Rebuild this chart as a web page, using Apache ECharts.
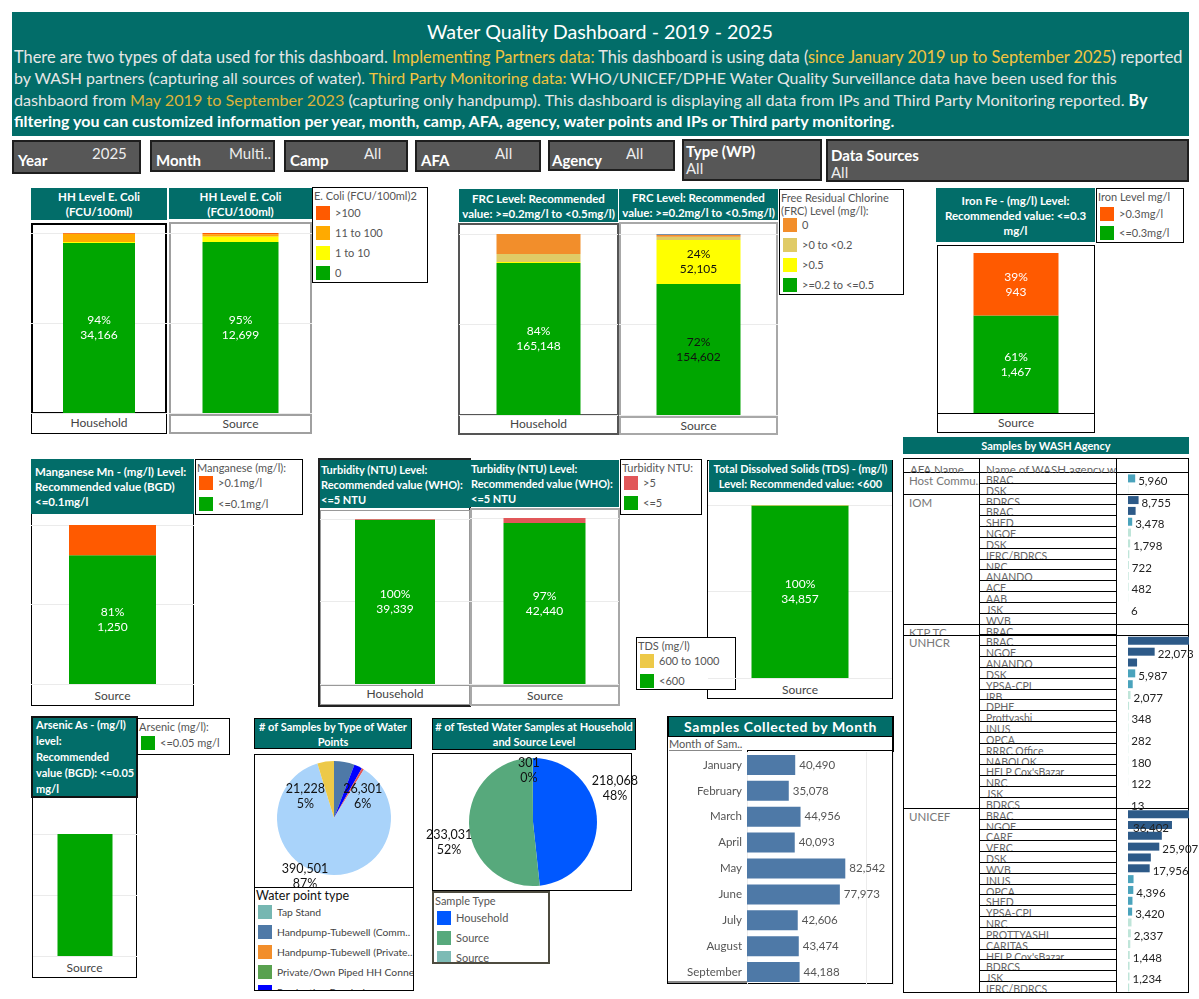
<!DOCTYPE html>
<html>
<head>
<meta charset="utf-8">
<title>Water Quality Dashboard - 2019 - 2025</title>
<script src="https://cdn.jsdelivr.net/npm/echarts@6/dist/echarts.min.js"></script>
<style>
  body { margin: 0; background: #fff; font-family: Lato, 'Open Sans', sans-serif; }
  #page { position: relative; width: 1199px; height: 999px; overflow: hidden; }
  #chart { position: absolute; left: 0; top: 0; width: 1199px; height: 999px; z-index: 2; }
  .bx { position: absolute; box-sizing: border-box; }
  .ln { position: absolute; white-space: nowrap; }
  .teal { background: #026d69; color: #fff; font-weight: bold; font-size: 11.5px; line-height: 15px; white-space: nowrap;
          display: flex; flex-direction: column; justify-content: center; overflow: hidden; }
  .hl { color: #f2c440; }
  .filter { background: #575757; border: 2px solid #1e1e1e; color: #fff; }
  .lg { background: #fff; border: 1px solid #000; color: #555; font-size: 11px; overflow: hidden; }
  .cat { border: 1px solid #000; color: #444; font-size: 12px; text-align: center; line-height: 18px; }
  .cell { overflow: hidden; white-space: nowrap; color: #666; font-size: 10.5px; line-height: 11px; border-bottom: 1px solid #000; padding: 2px 0 0 6px; }
</style>
</head>
<body>
<div id="page">
  <div id="chart"></div>
</div>
<script>
// ---------- data ----------
const ecoliLevels = ['0', '1 to 10', '11 to 100', '>100'];
const ecoliHousehold = [34166, 200, 1660, 140];
const ecoliSource = [12699, 393, 170, 98];

const frcLevels = ['>=0.2 to <=0.5', '>0.5', '>0 to <0.2', '0', 'Null'];
const frcHousehold = [165148, 1100, 8700, 21800, 0];
const frcSource = [154602, 52105, 3900, 2360, 800];

const ironLevels = ['<=0.3mg/l', '>0.3mg/l'];
const ironSource = [1467, 943];

const manganeseLevels = ['<=0.1mg/l', '>0.1mg/l'];
const manganeseSource = [1250, 293];

const turbidityLevels = ['<=5', '>5'];
const turbidityHousehold = [39339, 150];
const turbiditySource = [42440, 1310];

const tdsLevels = ['<600', '600 to 1000'];
const tdsSource = [34857, 100];

const arsenicLevels = ['<=0.05 mg/l'];
const arsenicSource = [1500];

const waterPointTypes = ['Tap Stand', 'Handpump-Tubewell (Community)', 'Handpump-Tubewell (Private)',
  'Private/Own Piped HH Connection', 'Production Borehole', 'Protected Dug Well', 'Piped Water Network', 'Other'];
const waterPointSamples = [0, 26301, 0, 0, 10400, 2970, 390501, 21228];

const sampleTypes = ['Household', 'Source', 'Source '];
const sampleCounts = [218068, 233031, 301];

const months = ['January', 'February', 'March', 'April', 'May', 'June', 'July', 'August', 'September'];
const monthSamples = [40490, 35078, 44956, 40093, 82542, 77973, 42606, 43474, 44188];

const afaNames = ['Host Community', 'IOM', 'KTP TC', 'UNHCR', 'UNICEF'];
const hostAgencies = ['BRAC', 'DSK'];
const hostSamples = [5960, 260];
const iomAgencies = ['BDRCS', 'BRAC', 'SHED', 'NGOF', 'DSK', 'IFRC/BDRCS', 'NRC', 'ANANDO', 'ACF', 'AAB', 'JSK', 'WVB'];
const iomSamples = [8755, 6300, 3478, 2500, 1798, 1100, 722, 560, 482, 150, 6, 3];
const ktpAgencies = ['BRAC'];
const ktpSamples = [40];
const unhcrAgencies = ['BRAC', 'NGOF', 'ANANDO', 'DSK', 'YPSA-CPI', 'IRB', 'DPHE', 'Prottyashi', 'INUS', 'OPCA',
  'RRRC Office', 'NABOLOK', "HELP Cox'sBazar", 'NRC', 'JSK', 'BDRCS'];
const unhcrSamples = [58000, 22073, 7500, 5987, 3900, 2077, 900, 348, 300, 282, 200, 180, 150, 122, 40, 13];
const unicefAgencies = ['BRAC', 'NGOF', 'CARE', 'VERC', 'DSK', 'WVB', 'INUS', 'OPCA', 'SHED', 'YPSA-CPI', 'NRC',
  'PROTTYASHI', 'CARITAS', "HELP Cox'sBazar", 'BDRCS', 'JSK', 'IFRC/BDRCS'];
const unicefSamples = [62000, 36402, 28000, 25907, 18900, 17956, 4600, 4396, 3700, 3420, 2900, 2337, 1900, 1448, 1300, 1234, 1000];

// ---------- styles ----------
const FONT = 'Lato, "Open Sans", sans-serif';
const levelColors = {
  '0': '#00a600', '1 to 10': '#ffff00', '11 to 100': '#ffaa00', '>100': '#ff5a00',
  '>=0.2 to <=0.5': '#00a600', '>0.5': '#ffff00', '>0 to <0.2': '#e0cb66', 'Null': '#4e79a7',
  '<=0.3mg/l': '#00a600', '>0.3mg/l': '#ff5a00',
  '<=0.1mg/l': '#00a600', '>0.1mg/l': '#ff5a00',
  '<=5': '#00a600', '>5': '#e15759',
  '<600': '#00a600', '600 to 1000': '#edc948',
  '<=0.05 mg/l': '#00a600'
};
const frcColors = Object.assign({}, levelColors, { '0': '#f28e2b' });
const wpColors = ['#76b7b2', '#4e79a7', '#f28e2b', '#59a14f', '#0000ff', '#e15759', '#a9d3fa', '#edc948'];
const sampleColors = ['#0058ff', '#57a97c', '#7dbbb5'];
// label nudges (px) so pie labels sit where the dashboard puts them
const wpLabelShift = { 1: [23, 9], 6: [-25, 27], 7: [-24, 10] };
const sampleLabelShift = { 0: [47, -32], 1: [-49, 19], 2: [-4, -17] };

// ---------- html layer ----------
const page = document.getElementById('page');
function box(x, y, w, h, cls, css, html) {
  const d = document.createElement('div');
  d.className = 'bx ' + (cls || '');
  d.style.cssText = `left:${x}px;top:${y}px;width:${w}px;height:${h}px;` + (css || '');
  if (html != null) d.innerHTML = html;
  page.appendChild(d);
  return d;
}
function title(x, y, w, h, html, css) {
  return box(x, y, w, h, 'teal', 'text-align:center;' + (css || ''), html);
}
function legend(x, y, w, h, head, items, first, step, css, itemCss) {
  const d = box(x, y, w, h, 'lg', css || '');
  let s = `<div class="ln" style="left:1px;top:1px;white-space:normal;line-height:13px">${head}</div>`;
  items.forEach((it, k) => {
    const t = first + k * step - 8;
    s += `<div class="ln" style="left:3px;top:${t}px;width:14px;height:14px;background:${it[1]}"></div>`;
    s += `<div class="ln" style="left:22px;top:${t}px;line-height:14px;${itemCss || ''}">${it[0]}</div>`;
  });
  d.innerHTML = s;
  return d;
}
function catBox(x, y, w, h, text, css) {
  return box(x, y, w, h, 'cat', css || '', text);
}
function legendItems(levels, colors) {
  return levels.filter(l => l !== 'Null').slice().reverse().map(l => [l.replace(/</g, '&lt;').replace(/>/g, '&gt;'), colors[l]]);
}

// header
box(12, 12, 1177, 124, '', 'background:#026d69');
const headLines = [
  [32, 346, 'font-size:20px;color:#fff;', 'Water Quality Dashboard - 2019 - 2025', 427],
  [57, 1169, 'color:#e6e6e6;', 'There are two types of data used for this dashboard. <span class="hl">Implementing Partners data:</span> This dashboard is using data (<span class="hl">since January 2019 up to September 2025</span>) reported', 14],
  [78, 1103, 'color:#e6e6e6;', 'by WASH partners (capturing all sources of water). <span class="hl">Third Party Monitoring data:</span> WHO/UNICEF/DPHE Water Quality Surveillance data have been used for this', 14],
  [100, 1134, 'color:#e6e6e6;', 'dashbaord from <span class="hl" style="color:#dcb23c">May 2019 to September 2023</span> (capturing only handpump). This dashboard is displaying all data from IPs and Third Party Monitoring reported. <b style="color:#fff">By</b>', 14],
  [121, 881, 'color:#fff;font-weight:bold;', 'filtering you can customized information per year, month, camp, AFA, agency, water points and IPs or Third party monitoring.', 14]
];
headLines.forEach(l => {
  const d = document.createElement('div');
  d.className = 'ln';
  d.style.cssText = `left:${l[4]}px;top:${l[0] - 11}px;line-height:22px;font-size:16px;` + l[2];
  d.innerHTML = l[3];
  page.appendChild(d);
  const w = d.getBoundingClientRect().width;
  d.style.fontSize = (parseFloat(d.style.fontSize) * l[1] / w) + 'px';
});

// filters
const filters = [
  [12, 140, 129, 34, 'Year', '2025', 4, 78],
  [150, 140, 125, 32, 'Month', 'Multi..', 4, 77],
  [284, 140, 124, 32, 'Camp', 'All', 4, 78],
  [415, 140, 126, 32, 'AFA', 'All', 4, 78],
  [548, 140, 127, 31, 'Agency', 'All', 2, 76]
];
filters.forEach(f => {
  box(f[0], f[1], f[2], f[3], 'filter', '',
    `<div class="ln" style="left:${f[6]}px;top:9px;font-weight:bold;font-size:15px">${f[4]}</div>` +
    `<div class="ln" style="left:${f[7]}px;top:2px;font-size:15px;color:#eee">${f[5]}</div>`);
});
box(682, 139, 140, 42, 'filter', '',
  '<div class="ln" style="left:2px;top:1px;font-weight:bold;font-size:15px">Type (WP)</div>' +
  '<div class="ln" style="left:2px;top:18px;font-size:15px;color:#eee">All</div>');
box(826, 139, 363, 43, 'filter', '',
  '<div class="ln" style="left:3px;top:5px;font-weight:bold;font-size:15px">Data Sources</div>' +
  '<div class="ln" style="left:3px;top:22px;font-size:15px;color:#eee">All</div>');

// E. coli
title(31, 188, 136, 32, 'HH Level E. Coli<br>(FCU/100ml)');
box(31, 223, 136, 191, '', 'border:2px solid #000');
catBox(31, 413, 136, 21, 'Household');
title(169, 188, 143, 31, 'HH Level E. Coli<br>(FCU/100ml)');
box(169, 222, 143, 193, '', 'border:2px solid #a0a0a0');
catBox(169, 414, 143, 20, 'Source', 'border:2px solid #a0a0a0;line-height:16px');
legend(312, 187, 116, 96, 'E. Coli (FCU/100ml)2', legendItems(ecoliLevels, levelColors), 26, 20);

// FRC
title(459, 189, 159, 33, 'FRC Level: Recommended<br>value: &gt;=0.2mg/l to &lt;0.5mg/l)');
box(458, 223, 161, 193, '', 'border:2px solid #555');
catBox(458, 415, 161, 20, 'Household', 'border:2px solid #555;border-top:1px solid #999;line-height:16px');
title(619, 189, 159, 31, 'FRC Level: Recommended<br>value: &gt;=0.2mg/l to &lt;0.5mg/l)');
box(619, 222, 159, 195, '', 'border:2px solid #a8a8a8');
catBox(619, 416, 159, 19, 'Source', 'border:2px solid #a8a8a8;line-height:16px');
legend(779, 189, 125, 106, 'Free Residual Chlorine<br>(FRC) Level (mg/l):', legendItems(frcLevels, frcColors), 36, 20);

// Iron
title(936, 188, 159, 54, 'Iron Fe - (mg/l) Level:<br>Recommended value: &lt;=0.3<br>mg/l');
box(937, 245, 158, 169, '', 'border:1px solid #000');
catBox(937, 413, 158, 20, 'Source');
legend(1096, 188, 88, 55, 'Iron Level mg/l', legendItems(ironLevels, levelColors), 26, 19);

// Manganese
title(31, 459, 163, 55, 'Manganese Mn - (mg/l) Level:<br>Recommended value (BGD)<br>&lt;=0.1mg/l', 'text-align:left;padding-left:4px');
box(31, 514, 163, 192, '', 'border:1px solid #000;border-top:none');
box(31, 688, 163, 18, '', 'color:#444;font-size:12px;text-align:center', 'Source');
legend(195, 459, 108, 56, 'Manganese (mg/l):', legendItems(manganeseLevels, levelColors), 24, 21);

// Turbidity
box(318, 458, 153, 249, '', 'border:2px solid #222');
title(320, 460, 150, 48, 'Turbidity (NTU) Level:<br>Recommended value (WHO):<br>&lt;=5 NTU', 'text-align:left;padding-left:1px;font-size:11px');
box(320, 510, 150, 176, '', 'border:1px solid #999');
catBox(320, 685, 150, 20, 'Household', 'border:1px solid #999;border-top:none');
title(470, 460, 149, 47, 'Turbidity (NTU) Level:<br>Recommended value (WHO):<br>&lt;=5 NTU', 'text-align:left;padding-left:1px;font-size:11px');
box(470, 508, 150, 178, '', 'border:2px solid #a8a8a8');
catBox(470, 685, 150, 21, 'Source', 'border:2px solid #a8a8a8;line-height:17px');
legend(620, 459, 82, 56, 'Turbidity NTU:', legendItems(turbidityLevels, levelColors), 24, 20);

// TDS
box(707, 460, 186, 239, '', 'border:1px solid #000');
title(709, 460, 183, 32, 'Total Dissolved Solids (TDS) - (mg/l)<br>Level: Recommended value: &lt;600', 'font-size:11px');
box(708, 682, 184, 18, '', 'color:#444;font-size:12px;text-align:center', 'Source');
legend(636, 637, 100, 53, 'TDS (mg/l)', legendItems(tdsLevels, levelColors), 24, 20);

// Arsenic
box(32, 797, 105, 181, '', 'border:1px solid #000;border-top:none');
title(31, 716, 107, 82, 'Arsenic As - (mg/l)<br>level:<br>Recommended<br>value (BGD): &lt;=0.05<br>mg/l', 'text-align:left;padding-left:3px;line-height:16px;font-size:11px;border:2px solid #111');
box(32, 960, 105, 18, '', 'color:#444;font-size:12px;text-align:center', 'Source');
legend(137, 718, 93, 37, 'Arsenic (mg/l):', legendItems(arsenicLevels, levelColors), 25, 20);

// water point pie
title(254, 718, 158, 31, '# of Samples by Type of Water<br>Points', 'border:1px solid #000;font-size:11px');
box(254, 754, 160, 134, '', 'border:1px solid #000');
legend(254, 887, 160, 104, '<span style="color:#111;font-size:12.5px">Water point type</span>',
  [['Tap Stand', wpColors[0]], ['Handpump-Tubewell (Comm..', wpColors[1]], ['Handpump-Tubewell (Private..', wpColors[2]],
   ['Private/Own Piped HH Conne..', wpColors[3]], ['Production Borehole', wpColors[4]]], 25, 20, 'color:#444', 'font-size:10.3px');

// tested samples pie
title(432, 718, 204, 32, '# of Tested Water Samples at Household<br>and Source Level', 'border:1px solid #000;font-size:11px');
box(432, 753, 200, 138, '', 'border:1px solid #000');
legend(432, 891, 118, 73, 'Sample Type', sampleTypes.map((s, i) => [s.trim(), sampleColors[i]]), 26, 20, 'border:2px solid #4d4b3f');

// month
box(667, 716, 227, 268, '', 'border:1px solid #000');
title(668, 716, 225, 21, 'Samples Collected by Month', 'font-size:14px;letter-spacing:0.6px;border:1px solid #000');
box(668, 737, 225, 14, '', 'border-right:1px solid #000;font-size:11px;color:#555;line-height:13px;padding-left:1px;overflow:hidden',
  '<span style="border-bottom:1px solid #888">Month of Sam..</span>');
box(747, 750, 146, 234, '', 'border:1px solid #000');
box(668, 981, 79, 2, '', 'background:#888');

// agency table
const rowH = 10.83, rowTop = 473;
title(903, 437, 286, 17, 'Samples by WASH Agency', 'font-size:11px;line-height:15px');
box(903, 458, 286, 535, '', 'border:1px solid #000');
box(979, 458, 1, 535, '', 'background:#000');
box(1116, 458, 1, 535, '', 'background:#000');
box(903, 472, 286, 1, '', 'background:#000');
box(904, 459, 75, 14, '', 'overflow:hidden;white-space:nowrap;color:#666;font-size:11.5px;line-height:13px;padding:4px 0 0 6px', 'AFA Name');
box(980, 459, 136, 14, '', 'overflow:hidden;white-space:nowrap;color:#666;font-size:11.5px;line-height:13px;padding:4px 0 0 6px', 'Name of WASH agency w..');

const agencyGroups = [
  [afaNames[0], 'Host Commu..', hostAgencies, hostSamples],
  [afaNames[1], 'IOM', iomAgencies, iomSamples],
  [afaNames[2], 'KTP TC', ktpAgencies, ktpSamples],
  [afaNames[3], 'UNHCR', unhcrAgencies, unhcrSamples],
  [afaNames[4], 'UNICEF', unicefAgencies, unicefSamples]
];
const agencyRows = [];
agencyGroups.forEach(g => {
  const start = agencyRows.length;
  g[2].forEach((n, k) => agencyRows.push({ afa: g[0], name: n, value: g[3][k] }));
  const gy = rowTop + start * rowH;
  box(904, gy, 75, rowH * g[2].length, '', 'overflow:hidden;white-space:nowrap;color:#777;font-size:11.5px;line-height:13px;padding:1px 0 0 5px', g[1]);
  if (start > 0) box(903, gy - 0.5, 286, 1, '', 'background:#000');
});
agencyRows.forEach((r, i) => {
  box(980, rowTop + i * rowH, 136, rowH, 'cell', '', r.name);
});

// ---------- echarts ----------
const grids = [], xAxes = [], yAxes = [], series = [];

function addStack(levels, counts, colors, rect, barWidth, cat, opts) {
  opts = opts || {};
  const gi = grids.length;
  grids.push({ left: rect[0], top: rect[1], width: rect[2], height: rect[3] });
  xAxes.push({ gridIndex: gi, type: 'category', data: [cat], axisLine: { show: false }, axisTick: { show: false }, axisLabel: { show: false } });
  yAxes.push({ gridIndex: gi, type: 'value', min: 0, max: 100, interval: 50,
    axisLine: { show: false }, axisTick: { show: false }, axisLabel: { show: false },
    splitLine: { show: opts.grid !== false, lineStyle: { color: '#ebebeb', width: 1 } } });
  const total = counts.reduce((a, b) => a + b, 0);
  levels.forEach((lv, i) => {
    const pct = counts[i] / total * 100;
    series.push({
      type: 'bar', name: lv, xAxisIndex: gi, yAxisIndex: gi, stack: 'st' + gi, barWidth: barWidth,
      data: [{ value: pct, count: counts[i] }],
      itemStyle: { color: colors[lv] },
      label: {
        show: opts.labels !== false && pct >= 20, position: 'inside',
        color: opts.labelColor || '#fff', fontSize: 12, lineHeight: 15, fontFamily: FONT,
        formatter: p => Math.round(p.value) + '%\n' + p.data.count.toLocaleString('en-US')
      }
    });
  });
}

addStack(ecoliLevels, ecoliHousehold, levelColors, [31, 233, 136, 180], 72, 'Household');
addStack(ecoliLevels, ecoliSource, levelColors, [169, 233, 143, 180], 76, 'Source');
addStack(frcLevels, frcHousehold, frcColors, [459, 234, 159, 181], 84, 'Household');
addStack(frcLevels, frcSource, frcColors, [619, 234, 159, 181], 84, 'Source', { labelColor: '#111' });
addStack(ironLevels, ironSource, levelColors, [937, 253, 158, 160], 85, 'Source', { grid: false });
addStack(manganeseLevels, manganeseSource, levelColors, [31, 525, 163, 159], 87, 'Source');
addStack(turbidityLevels, turbidityHousehold, levelColors, [320, 519, 150, 165], 80, 'Household');
addStack(turbidityLevels, turbiditySource, levelColors, [470, 518, 149, 166], 82, 'Source');
addStack(tdsLevels, tdsSource, levelColors, [708, 505, 184, 173], 97, 'Source');
addStack(arsenicLevels, arsenicSource, levelColors, [33, 834, 104, 122], 55, 'Source', { labels: false });

// pies
series.push({
  type: 'pie', center: [334, 818], radius: 57, startAngle: 90, clockwise: true,
  avoidLabelOverlap: false, minShowLabelAngle: 0,
  data: waterPointTypes.map((n, i) => ({ name: n, value: waterPointSamples[i], itemStyle: { color: wpColors[i] } })),
  label: { show: true, position: 'inside', color: '#111', fontSize: 12.5, lineHeight: 15, fontFamily: FONT,
    formatter: p => p.percent >= 4 ? p.value.toLocaleString('en-US') + '\n' + Math.round(p.percent) + '%' : '' },
  labelLine: { show: false },
  labelLayout: p => { const s = wpLabelShift[p.dataIndex]; return s ? { dx: s[0], dy: s[1] } : {}; }
});
series.push({
  type: 'pie', center: [533, 822], radius: 64, startAngle: 90, clockwise: true,
  avoidLabelOverlap: false, minShowLabelAngle: 0,
  data: sampleTypes.map((n, i) => ({ name: n, value: sampleCounts[i], itemStyle: { color: sampleColors[i] } })),
  label: { show: true, position: 'inside', color: '#111', fontSize: 12.5, lineHeight: 15, fontFamily: FONT,
    formatter: p => p.value.toLocaleString('en-US') + '\n' + Math.round(p.percent) + '%' },
  labelLine: { show: false },
  labelLayout: p => { const s = sampleLabelShift[p.dataIndex]; return s ? { dx: s[0], dy: s[1] } : {}; }
});

// samples by month
let gi = grids.length;
grids.push({ left: 747, top: 752, width: 146, height: 233 });
xAxes.push({ gridIndex: gi, type: 'value', min: 0, max: 122600, interval: 100000,
  axisLine: { show: false }, axisTick: { show: false }, axisLabel: { show: false },
  splitLine: { show: true, lineStyle: { color: '#ececec' } } });
yAxes.push({ gridIndex: gi, type: 'category', data: months, inverse: true,
  axisLine: { show: false }, axisTick: { show: false },
  axisLabel: { color: '#555', fontSize: 11.5, fontFamily: FONT, margin: 5 } });
series.push({
  type: 'bar', xAxisIndex: gi, yAxisIndex: gi, data: monthSamples, barWidth: 20,
  itemStyle: { color: '#4e79a7' },
  label: { show: true, position: 'right', distance: 4, color: '#555', fontSize: 11.5, fontFamily: FONT,
    formatter: p => p.value.toLocaleString('en-US') }
});

// samples by WASH agency
function agencyColor(v) {
  if (v >= 6100) return '#2d5a88';
  if (v >= 3000) return '#4aa3bc';
  return '#bfe5d9';
}
gi = grids.length;
grids.push({ left: 1128, top: rowTop, width: 61, height: rowH * agencyRows.length });
xAxes.push({ gridIndex: gi, type: 'value', min: 0, max: 50500, show: false, splitLine: { show: false } });
yAxes.push({ gridIndex: gi, type: 'category', data: agencyRows.map((r, i) => i + ' ' + r.name), inverse: true, show: false });
series.push({
  type: 'bar', xAxisIndex: gi, yAxisIndex: gi, barWidth: 8, clip: true,
  data: agencyRows.map((r, i) => ({
    value: r.value,
    itemStyle: { color: agencyColor(r.value) },
    label: { show: i % 2 === 0 && r.afa !== 'KTP TC', position: r.value > 30000 ? 'insideRight' : 'right' }
  })),
  label: { distance: 3, offset: [0, 3], color: '#222', fontSize: 11.5, fontFamily: FONT,
    formatter: p => p.value.toLocaleString('en-US') }
});

const myChart = echarts.init(document.getElementById('chart'), null, { renderer: 'canvas' });
myChart.setOption({
  backgroundColor: 'transparent',
  animation: false,
  textStyle: { fontFamily: FONT },
  grid: grids,
  xAxis: xAxes,
  yAxis: yAxes,
  series: series.map(s => Object.assign({ silent: true }, s))
});
</script>
</body>
</html>
